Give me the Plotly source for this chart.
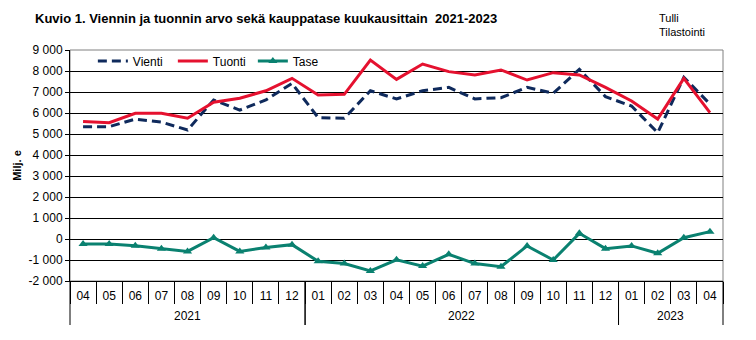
import plotly.graph_objects as go

years = ["2021"] * 9 + ["2022"] * 12 + ["2023"] * 4
months = ["04", "05", "06", "07", "08", "09", "10", "11", "12",
          "01", "02", "03", "04", "05", "06", "07", "08", "09", "10", "11", "12",
          "01", "02", "03", "04"]

vienti = [5350, 5350, 5710, 5570, 5190, 6620, 6140, 6620, 7410,
          5780, 5750, 7060, 6670, 7060, 7220, 6670, 6730, 7220, 6940, 8080, 6780,
          6330, 5060, 7700, 6430]
tuonti = [5590, 5540, 5985, 5985, 5750, 6510, 6700, 7060, 7650,
          6860, 6890, 8520, 7600, 8330, 7970, 7810, 8050, 7570, 7920, 7810, 7220,
          6570, 5710, 7650, 6020]
tase = [-240, -240, -320, -460, -590, 60, -590, -400, -270,
        -1060, -1170, -1520, -990, -1290, -730, -1170, -1320, -330, -1000, 270, -460,
        -330, -680, 60, 350]

ytickvals = list(range(-2000, 9001, 1000))
yticktext = ["-2 000", "-1 000", "0", "1 000", "2 000", "3 000", "4 000",
             "5 000", "6 000", "7 000", "8 000", "9 000"]

FONT = "Liberation Sans, Arial, sans-serif"
W, H = 756, 340
ML, MR, MT, MB = 70, 33, 50, 59
plot_h = H - MT - MB

# month labels stay visually identical, but are unique per year so order is kept
year_marks = {"2021": "", "2022": "\u200b", "2023": "\u200b\u200b"}
month_keys = [m + year_marks[y] for y, m in zip(years, months)]
n = len(month_keys)

fig = go.Figure()
fig.add_trace(go.Scatter(x=month_keys, y=vienti, name="Vienti", mode="lines",
                         line=dict(color="#0F2A5C", width=3, dash="9px,5px")))
fig.add_trace(go.Scatter(x=month_keys, y=tuonti, name="Tuonti", mode="lines",
                         line=dict(color="#E5112F", width=3)))
fig.add_trace(go.Scatter(x=month_keys, y=tase, name="Tase", mode="lines+markers",
                         line=dict(color="#0A8170", width=3),
                         marker=dict(symbol="triangle-up", size=8, color="#0A8170")))

# year groups: boundaries and centres derived from the years list
groups = []
start = 0
for i in range(1, n + 1):
    if i == n or years[i] != years[start]:
        groups.append((years[start], start, i - 1))
        start = i

shapes = [dict(type="rect", xref="paper", yref="paper", x0=0, x1=1, y0=0, y1=1,
               line=dict(color="#808080", width=1), layer="below")]
annotations = []
div_len = 44 / plot_h
for name, a, b in groups:
    for edge in (a - 0.5, b + 0.5):
        shapes.append(dict(type="line", xref="paper", yref="paper",
                           x0=(edge + 0.5) / n, x1=(edge + 0.5) / n,
                           y0=0, y1=-div_len, line=dict(color="black", width=1)))
    annotations.append(dict(text=name, xref="paper", yref="paper",
                            x=((a + b) / 2 + 0.5) / n, y=0, yshift=-35,
                            xanchor="center", yanchor="middle", showarrow=False,
                            font=dict(size=12)))

annotations += [
    dict(text="<b>Kuvio 1. Viennin ja tuonnin arvo sekä kauppatase kuukausittain  2021-2023</b>",
         xref="paper", yref="paper", x=-0.057, y=1.0, yshift=32, xanchor="left",
         yanchor="middle", showarrow=False, font=dict(size=13)),
    dict(text="Tulli<br>Tilastointi", xref="paper", yref="paper", x=0.899, y=1.0,
         yshift=25, xanchor="left", yanchor="middle", align="left",
         showarrow=False, font=dict(size=11)),
]

fig.update_layout(
    width=W, height=H,
    margin=dict(l=ML, r=MR, t=MT, b=MB),
    paper_bgcolor="white", plot_bgcolor="white",
    font=dict(family=FONT, size=12, color="black"),
    showlegend=True,
    legend=dict(orientation="h", x=0.035, y=1.015, xanchor="left", yanchor="top",
                bgcolor="rgba(255,255,255,0)", font=dict(size=12),
                itemwidth=30, entrywidth=35, entrywidthmode="pixels",
                tracegroupgap=0),
    xaxis=dict(type="category", showgrid=False, showline=True, linecolor="black",
               linewidth=1, ticks="outside", tickson="boundaries", ticklen=22,
               tickcolor="black", tickfont=dict(size=12), ticklabelstandoff=4,
               range=[-0.5, n - 0.5]),
    yaxis=dict(range=[-2000, 9000], tickvals=ytickvals, ticktext=yticktext,
               showgrid=True, gridcolor="black", gridwidth=1, zeroline=False,
               showline=True, linecolor="black", linewidth=1,
               ticks="outside", ticklen=4, tickcolor="black",
               tickfont=dict(size=12),
               title=dict(text="<b>Milj. e</b>", font=dict(size=11), standoff=4)),
    shapes=shapes,
    annotations=annotations,
)

fig.write_html("out.html")
